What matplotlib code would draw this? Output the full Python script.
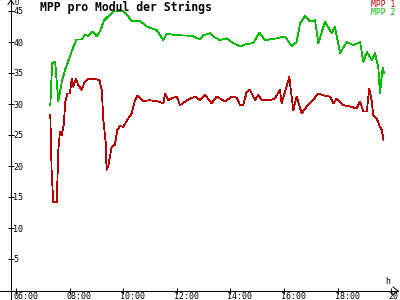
import matplotlib
matplotlib.use('Agg')
import matplotlib.pyplot as plt
import matplotlib.transforms as mtransforms
from matplotlib.lines import Line2D

# ---- data (decimal hours, module MPP voltage) ----
hours_mpp1 = [7.28, 7.33, 7.39, 7.52, 7.58, 7.64, 7.71, 7.79, 7.83, 7.91, 8.01, 8.08,
              8.14, 8.24, 8.32, 8.45, 8.57, 8.70, 8.95, 9.11, 9.20, 9.26, 9.35, 9.38,
              9.44, 9.57, 9.69, 9.78, 9.88, 10.00, 10.19, 10.32, 10.44, 10.53, 10.75,
              11.00, 11.31, 11.50, 11.56, 11.68, 11.81, 12.00, 12.12, 12.37, 12.68,
              12.87, 13.05, 13.30, 13.49, 13.80, 14.05, 14.24, 14.36, 14.48, 14.61,
              14.73, 14.92, 15.04, 15.17, 15.48, 15.66, 15.85, 15.91, 16.04, 16.20,
              16.25, 16.35, 16.47, 16.66, 16.85, 17.03, 17.28, 17.53, 17.72, 17.84,
              17.97, 18.21, 18.46, 18.71, 18.84, 18.96, 19.09, 19.18, 19.27, 19.33,
              19.46, 19.58, 19.65, 19.71]
mpp1 = [28.2, 19.1, 14.2, 14.2, 22.6, 25.5, 25.0, 26.9, 30.1, 31.7, 31.7, 34.1,
        32.8, 34.1, 33.1, 32.3, 33.6, 34.1, 34.0, 33.9, 32.3, 27.4, 23.7, 19.4,
        19.9, 23.1, 23.4, 25.8, 26.5, 26.3, 27.7, 28.5, 30.6, 31.3, 30.5,
        30.6, 30.4, 30.1, 31.7, 30.6, 30.9, 31.2, 29.8, 30.6, 31.2,
        30.6, 31.5, 30.1, 31.2, 30.4, 31.2, 31.0, 29.8, 29.8, 32.0,
        32.3, 30.6, 31.5, 30.6, 30.6, 30.9, 32.3, 30.1, 32.0, 34.4,
        32.3, 29.0, 31.2, 28.5, 29.6, 30.4, 31.7, 31.3, 31.2, 30.1,
        30.9, 29.8, 29.6, 29.3, 30.4, 28.8, 28.8, 32.5, 30.6, 28.2,
        27.7, 26.3, 25.8, 24.2]

hours_mpp2 = [7.28, 7.35, 7.46, 7.58, 7.71, 7.83, 8.01, 8.14, 8.26, 8.45, 8.57, 8.70,
              8.86, 9.01, 9.13, 9.29, 9.62, 9.99, 10.13, 10.32, 10.63, 10.88, 11.25,
              11.50, 11.62, 12.00, 12.56, 12.87, 12.99, 13.24, 13.35, 13.61, 13.86,
              14.11, 14.36, 14.61, 14.85, 15.08, 15.29, 15.73, 16.04, 16.29, 16.47,
              16.60, 16.78, 16.97, 17.16, 17.28, 17.53, 17.78, 17.90, 18.09, 18.34,
              18.59, 18.84, 18.96, 19.09, 19.27, 19.40, 19.52, 19.58, 19.68, 19.73]
mpp2 = [29.8, 36.6, 36.8, 30.4, 33.6, 35.5, 37.6, 39.2, 40.4, 40.4, 41.1, 41.0,
        41.7, 40.9, 41.7, 43.5, 44.9, 45.0, 44.4, 43.4, 43.4, 42.5, 41.9,
        40.3, 41.3, 41.1, 41.0, 40.4, 41.1, 41.4, 40.9, 40.3, 40.6,
        39.8, 39.3, 39.7, 39.8, 41.5, 40.3, 40.6, 40.9, 39.3, 40.0,
        43.0, 44.2, 43.3, 43.5, 39.8, 43.3, 41.4, 42.5, 38.2, 40.0,
        39.5, 40.0, 36.8, 38.4, 37.1, 38.2, 35.8, 31.7, 35.8, 35.0]

series_names = ['MPP 1', 'MPP 2']
x_ticks = [6, 8, 10, 12, 14, 16, 18, 20]
x_tick_labels = ['06:00', '08:00', '10:00', '12:00', '14:00', '16:00', '18:00', '20:00']
y_ticks = [5, 10, 15, 20, 25, 30, 35, 40, 45]
title = 'MPP pro Modul der Strings'

RED = '#c00000'
GREEN = '#00c000'
W, H = 400, 300
PX_PER_H = 26.8
PX_PER_V = 6.2
LW = 0.72
DATA_LW = 0.55

def fx(px):
    return px / W

def fy(py):
    return 1 - py / H

fig = plt.figure(figsize=(4, 3), dpi=100)
fig.patch.set_facecolor('white')
ax = fig.add_axes([0, fy(291), fx(398), 291 / H])
x0 = 6 - 16 / PX_PER_H
ax.set_xlim(x0, x0 + 398 / PX_PER_H)
y0 = -1 / PX_PER_V
ax.set_ylim(y0, y0 + 291 / PX_PER_V)

ax.plot(hours_mpp2, mpp2, color=GREEN, lw=DATA_LW, antialiased=False)
ax.plot(hours_mpp1, mpp1, color=RED, lw=DATA_LW, antialiased=False)

for s in ['top', 'right']:
    ax.spines[s].set_visible(False)
yaxis_h = 6 - 5 / PX_PER_H
ax.spines['left'].set_position(('data', yaxis_h))
ax.spines['left'].set_linewidth(LW)
ax.spines['bottom'].set_linewidth(LW)

mono = 'DejaVu Sans Mono'
ax.set_xticks(x_ticks)
ax.set_xticklabels(x_tick_labels, fontsize=6, family=mono)
ax.set_yticks(y_ticks)
ax.set_yticklabels([str(v) for v in y_ticks], fontsize=6, family=mono)
ax.tick_params(axis='x', direction='inout', length=4.3, width=0.72, pad=-1.2)
ax.tick_params(axis='y', direction='inout', length=4.3, width=0.72, pad=-3.9)
off = mtransforms.ScaledTranslation(-3 / 100, 0, fig.dpi_scale_trans)
for lab in ax.get_xticklabels():
    lab.set_ha('left')
    lab.set_transform(lab.get_transform() + off)
for lab in ax.get_yticklabels():
    lab.set_ha('left')

# axis extensions and arrows (figure pixel coords)
def seg(x1, y1, x2, y2):
    fig.add_artist(Line2D([fx(x1), fx(x2)], [fy(y1), fy(y2)], color='black',
                          lw=LW, transform=fig.transFigure, antialiased=True))

seg(11, 291, 11, 300)
seg(11, 0.5, 8, 4.5)
seg(11, 0.5, 14, 4.5)
seg(398, 291, 393, 287)
seg(398, 291, 393, 295)

fig.text(fx(14), fy(3), 'U', fontsize=5, family=mono, va='center', ha='left')
fig.text(fx(385), fy(282), 'h', fontsize=6, family=mono, va='center', ha='left')

fig.text(fx(40), fy(7.5), title, fontsize=8.3, family=mono, weight='bold',
         va='center', ha='left')
fig.text(fx(395), fy(4.2), series_names[0], fontsize=5.8, family=mono, color=RED,
         va='center', ha='right')
fig.text(fx(395), fy(12.2), series_names[1], fontsize=5.8, family=mono, color=GREEN,
         va='center', ha='right')

fig.savefig('out.png', dpi=100)
